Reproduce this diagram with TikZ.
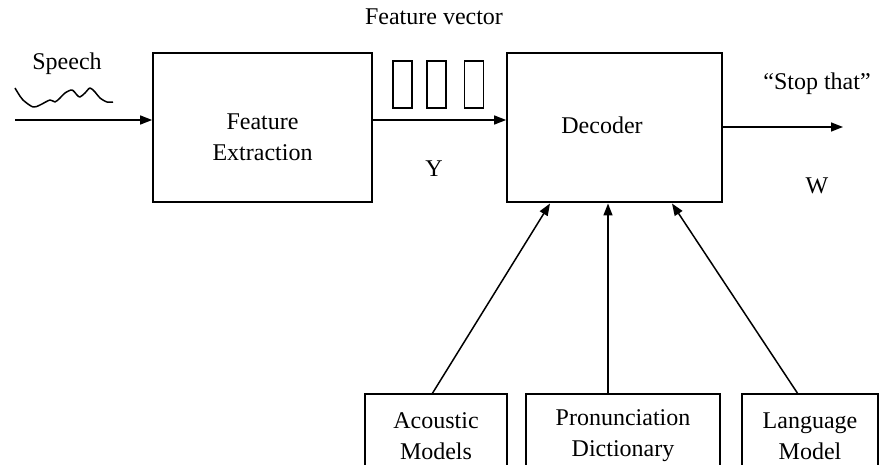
\documentclass[tikz,border=0pt]{standalone}
\usepackage{fontspec}
\setmainfont{Liberation Serif}
\usetikzlibrary{arrows.meta}
\begin{document}
\begin{tikzpicture}[x=1pt,y=-1pt,
  blk/.style={draw, line width=1.7pt, fill=white, inner sep=0pt},
  lbl/.style={font=\fontsize{24}{31}\selectfont, align=center, inner sep=0pt},
  arr/.style={line width=1.5pt, -{Triangle[length=12pt,width=9pt]}},
  vec/.style={draw, line width=1.5pt, minimum width=19pt, minimum height=47pt, inner sep=0pt}]
\useasboundingbox (0,0) rectangle (887,465);
% main boxes
\node[blk, minimum width=219pt, minimum height=149pt] (fe) at (262.5,127.5) {};
\node[lbl] (fet) at (262.5,137) {Feature\\Extraction};
\node[blk, minimum width=215pt, minimum height=149pt] (dec) at (614.5,127.5) {};
\node[lbl] (dect) at (602,125) {Decoder};
% bottom boxes (cut by the lower edge)
\node[blk, lbl, draw, line width=1.7pt, minimum width=142pt, minimum height=84pt] (am) at (436,436) {Acoustic\\Models};
\node[blk, lbl, draw, line width=1.7pt, minimum width=194pt, minimum height=84pt] (pd) at (623,436) {Pronunciation\\Dictionary\vphantom{g}};
\node[blk, lbl, draw, line width=1.7pt, minimum width=136pt, minimum height=84pt] (lm) at (810,436) {Language\\Model};
% speech input
\node[lbl] (sp) at (67,64) {Speech};
\coordinate (sin) at (15,120);
\draw[line width=1.5pt, line join=round] plot[smooth] coordinates {(15,88) (18,93) (23,100) (33,107) (40,105) (50,100) (55,102) (60,98) (65,93) (72,90) (77,95) (80,97) (85,93) (90,88) (95,92) (100,98) (107,102) (113,102)};
\draw[arr] (sin) -- (fe.west |- sin);
% feature vector
\node[lbl] (fvl) at (434,17) {Feature vector};
\node[vec] (v1) at (402.5,84.5) {};
\node[vec] (v2) at (436.5,84.5) {};
\node[vec] (v3) at (474,84.5) {};
\draw[arr] (fe.east |- 0,120) -- (dec.west |- 0,120);
\node[lbl] (yl) at (434,169) {Y};
% output
\coordinate (out) at (843,127);
\draw[arr] (dec.east |- out) -- (out);
\node[lbl] (st) at (817,84) {``Stop that''};
\node[lbl] (wl) at (817,186) {W};
% model arrows
\draw[arr] (432,394) -- (550,203.5);
\draw[arr] (pd.north -| 608,0) -- (608,203.5);
\draw[arr] (798,394) -- (672,203.5);
\end{tikzpicture}
\end{document}
